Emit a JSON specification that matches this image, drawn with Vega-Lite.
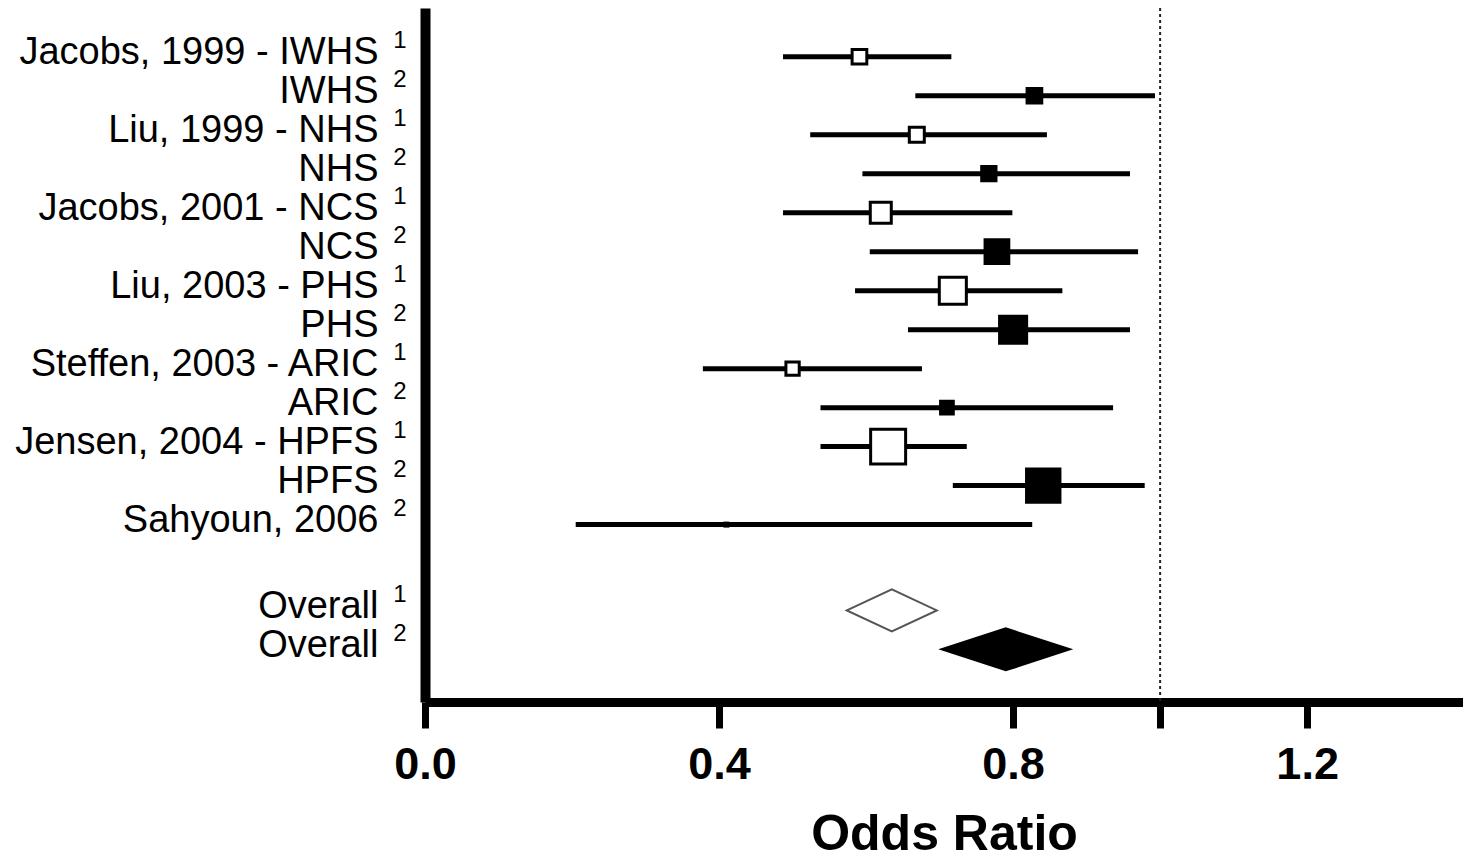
{
  "$schema": "https://vega.github.io/schema/vega-lite/v6.json",
  "width": 1038,
  "height": 694,
  "autosize": {"type": "none"},
  "padding": {"left": 425, "top": 8, "right": 0, "bottom": 157},
  "background": "white",
  "config": {"view": {"stroke": null}, "font": "Liberation Sans"},
  "datasets": {
    "forest": [
      {"row": 1, "label": "Jacobs, 1999 - IWHS", "sup": "1", "kind": "study", "model": "1", "or": 0.591, "lo": 0.487, "hi": 0.716, "weight": 7.2},
      {"row": 2, "label": "IWHS", "sup": "2", "kind": "study", "model": "2", "or": 0.829, "lo": 0.667, "hi": 0.993, "weight": 7.2},
      {"row": 3, "label": "Liu, 1999 - NHS", "sup": "1", "kind": "study", "model": "1", "or": 0.669, "lo": 0.524, "hi": 0.846, "weight": 7.5},
      {"row": 4, "label": "NHS", "sup": "2", "kind": "study", "model": "2", "or": 0.767, "lo": 0.595, "hi": 0.959, "weight": 6.8},
      {"row": 5, "label": "Jacobs, 2001 - NCS", "sup": "1", "kind": "study", "model": "1", "or": 0.620, "lo": 0.487, "hi": 0.799, "weight": 14.7},
      {"row": 6, "label": "NCS", "sup": "2", "kind": "study", "model": "2", "or": 0.778, "lo": 0.605, "hi": 0.970, "weight": 18.8},
      {"row": 7, "label": "Liu, 2003 - PHS", "sup": "1", "kind": "study", "model": "1", "or": 0.718, "lo": 0.585, "hi": 0.867, "weight": 24.4},
      {"row": 8, "label": "PHS", "sup": "2", "kind": "study", "model": "2", "or": 0.800, "lo": 0.657, "hi": 0.959, "weight": 24.4},
      {"row": 9, "label": "Steffen, 2003 - ARIC", "sup": "1", "kind": "study", "model": "1", "or": 0.500, "lo": 0.378, "hi": 0.676, "weight": 5.9},
      {"row": 10, "label": "ARIC", "sup": "2", "kind": "study", "model": "2", "or": 0.710, "lo": 0.538, "hi": 0.936, "weight": 5.4},
      {"row": 11, "label": "Jensen, 2004 - HPFS", "sup": "1", "kind": "study", "model": "1", "or": 0.630, "lo": 0.538, "hi": 0.737, "weight": 40.8},
      {"row": 12, "label": "HPFS", "sup": "2", "kind": "study", "model": "2", "or": 0.841, "lo": 0.718, "hi": 0.979, "weight": 37.2},
      {"row": 13, "label": "Sahyoun, 2006", "sup": "2", "kind": "study", "model": "2", "or": 0.410, "lo": 0.205, "hi": 0.826, "weight": 0.3},
      {"row": 15.2, "label": "Overall", "sup": "1", "kind": "overall", "model": "1", "or": 0.635, "lo": 0.574, "hi": 0.701, "weight": null},
      {"row": 16.2, "label": "Overall", "sup": "2", "kind": "overall", "model": "2", "or": 0.790, "lo": 0.698, "hi": 0.882, "weight": null}
    ]
  },
  "data": {"name": "forest"},
  "resolve": {"axis": {"y": "independent"}},
  "layer": [
    {
      "data": {"values": [{"ref": 1}]},
      "mark": {"type": "rule", "stroke": "#222222", "strokeWidth": 2, "strokeDash": [3, 3]},
      "encoding": {
        "x": {
          "field": "ref", "type": "quantitative",
          "scale": {"domain": [0, 1.412], "nice": false, "zero": false},
          "axis": {
            "title": "Odds Ratio",
            "values": [0, 0.4, 0.8, 1, 1.2],
            "labelExpr": "datum.value == 1 ? '' : format(datum.value, '.1f')",
            "grid": false,
            "domainColor": "black", "domainWidth": 9,
            "tickColor": "black", "tickWidth": 7, "tickSize": 26,
            "labelFont": "Liberation Sans", "labelFontSize": 45, "labelFontWeight": "bold", "labelColor": "black",
            "labelPadding": 14, "labelFlush": false, "labelOverlap": false,
            "titleFont": "Liberation Sans", "titleFontSize": 50, "titleFontWeight": "bold", "titleColor": "black",
            "titlePadding": 22
          }
        }
      }
    },
    {
      "transform": [{"filter": "datum.kind == 'study'"}],
      "mark": {"type": "rule", "stroke": "black", "strokeWidth": 5},
      "encoding": {
        "x": {
          "field": "lo", "type": "quantitative",
          "scale": {"domain": [0, 1.412], "nice": false, "zero": false},
          "axis": {
            "title": "Odds Ratio",
            "values": [0, 0.4, 0.8, 1, 1.2],
            "labelExpr": "datum.value == 1 ? '' : format(datum.value, '.1f')",
            "grid": false,
            "domainColor": "black", "domainWidth": 9,
            "tickColor": "black", "tickWidth": 7, "tickSize": 26,
            "labelFont": "Liberation Sans", "labelFontSize": 45, "labelFontWeight": "bold", "labelColor": "black",
            "labelPadding": 14, "labelFlush": false, "labelOverlap": false,
            "titleFont": "Liberation Sans", "titleFontSize": 50, "titleFontWeight": "bold", "titleColor": "black",
            "titlePadding": 22
          }
        },
        "x2": {"field": "hi"},
        "y": {
          "field": "row", "type": "quantitative",
          "scale": {"domain": [-0.25, 17.55], "reverse": true, "nice": false, "zero": false},
          "axis": {
            "orient": "left", "title": null,
            "values": [1, 2, 3, 4, 5, 6, 7, 8, 9, 10, 11, 12, 13, 15.2, 16.2],
            "labelExpr": "data('forest')[indexof(pluck(data('forest'), 'row'), datum.value)].label",
            "grid": false, "ticks": false, "tickSize": 0,
            "domain": true, "domainColor": "black", "domainWidth": 10,
            "labelFont": "Liberation Sans", "labelFontSize": 38, "labelColor": "black",
            "labelPadding": 47, "labelOffset": -4, "labelLimit": 0,
            "labelOverlap": false, "labelFlush": false, "labelBound": false
          }
        }
      }
    },
    {
      "transform": [{"filter": "datum.kind == 'study'"}],
      "mark": {"type": "point", "shape": "square", "filled": true, "stroke": "black", "strokeWidth": 3, "opacity": 1},
      "encoding": {
        "x": {
          "field": "or", "type": "quantitative",
          "scale": {"domain": [0, 1.412], "nice": false, "zero": false},
          "axis": {
            "title": "Odds Ratio",
            "values": [0, 0.4, 0.8, 1, 1.2],
            "labelExpr": "datum.value == 1 ? '' : format(datum.value, '.1f')",
            "grid": false,
            "domainColor": "black", "domainWidth": 9,
            "tickColor": "black", "tickWidth": 7, "tickSize": 26,
            "labelFont": "Liberation Sans", "labelFontSize": 45, "labelFontWeight": "bold", "labelColor": "black",
            "labelPadding": 14, "labelFlush": false, "labelOverlap": false,
            "titleFont": "Liberation Sans", "titleFontSize": 50, "titleFontWeight": "bold", "titleColor": "black",
            "titlePadding": 22
          }
        },
        "y": {
          "field": "row", "type": "quantitative",
          "scale": {"domain": [-0.25, 17.55], "reverse": true, "nice": false, "zero": false},
          "axis": {
            "orient": "left", "title": null,
            "values": [1, 2, 3, 4, 5, 6, 7, 8, 9, 10, 11, 12, 13, 15.2, 16.2],
            "labelExpr": "data('forest')[indexof(pluck(data('forest'), 'row'), datum.value)].sup",
            "grid": false, "ticks": false, "tickSize": 0, "domain": false,
            "labelFont": "Liberation Sans", "labelFontSize": 24, "labelColor": "black",
            "labelPadding": 19, "labelOffset": -16, "labelLimit": 0,
            "labelOverlap": false, "labelFlush": false, "labelBound": false
          }
        },
        "fill": {"field": "model", "type": "nominal", "scale": {"domain": ["1", "2"], "range": ["white", "black"]}, "legend": null},
        "size": {"field": "weight", "type": "quantitative", "scale": {"domain": [0, 100], "range": [0, 3000], "zero": true}, "legend": null}
      }
    },
    {
      "transform": [{"filter": "datum.kind == 'overall' && datum.model == '1'"}],
      "mark": {"type": "point", "shape": "M-1,0L0,-0.467L1,0L0,0.467Z", "size": 8100, "filled": true, "fill": "white", "stroke": "#555555", "strokeWidth": 2, "opacity": 1},
      "encoding": {
        "x": {
          "field": "or", "type": "quantitative",
          "scale": {"domain": [0, 1.412], "nice": false, "zero": false},
          "axis": {
            "title": "Odds Ratio",
            "values": [0, 0.4, 0.8, 1, 1.2],
            "labelExpr": "datum.value == 1 ? '' : format(datum.value, '.1f')",
            "grid": false,
            "domainColor": "black", "domainWidth": 9,
            "tickColor": "black", "tickWidth": 7, "tickSize": 26,
            "labelFont": "Liberation Sans", "labelFontSize": 45, "labelFontWeight": "bold", "labelColor": "black",
            "labelPadding": 14, "labelFlush": false, "labelOverlap": false,
            "titleFont": "Liberation Sans", "titleFontSize": 50, "titleFontWeight": "bold", "titleColor": "black",
            "titlePadding": 22
          }
        },
        "y": {"field": "row", "type": "quantitative", "scale": {"domain": [-0.25, 17.55], "reverse": true, "nice": false, "zero": false}, "axis": null}
      }
    },
    {
      "transform": [{"filter": "datum.kind == 'overall' && datum.model == '2'"}],
      "mark": {"type": "point", "shape": "M-1,0L0,-0.326L1,0L0,0.326Z", "size": 18225, "filled": true, "fill": "black", "strokeWidth": 0, "opacity": 1},
      "encoding": {
        "x": {
          "field": "or", "type": "quantitative",
          "scale": {"domain": [0, 1.412], "nice": false, "zero": false},
          "axis": {
            "title": "Odds Ratio",
            "values": [0, 0.4, 0.8, 1, 1.2],
            "labelExpr": "datum.value == 1 ? '' : format(datum.value, '.1f')",
            "grid": false,
            "domainColor": "black", "domainWidth": 9,
            "tickColor": "black", "tickWidth": 7, "tickSize": 26,
            "labelFont": "Liberation Sans", "labelFontSize": 45, "labelFontWeight": "bold", "labelColor": "black",
            "labelPadding": 14, "labelFlush": false, "labelOverlap": false,
            "titleFont": "Liberation Sans", "titleFontSize": 50, "titleFontWeight": "bold", "titleColor": "black",
            "titlePadding": 22
          }
        },
        "y": {"field": "row", "type": "quantitative", "scale": {"domain": [-0.25, 17.55], "reverse": true, "nice": false, "zero": false}, "axis": null}
      }
    }
  ]
}
